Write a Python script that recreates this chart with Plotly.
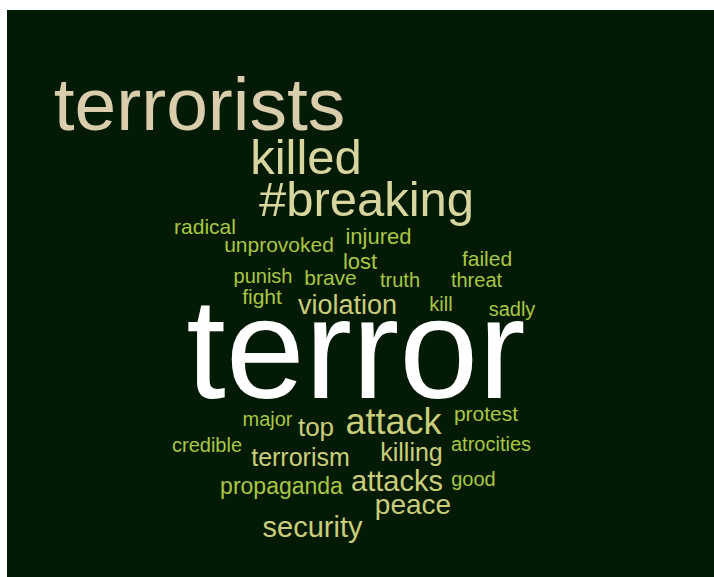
import plotly.graph_objects as go

# Words and their weights (font size in px, proportional to frequency)
words = ["terrorists", "killed", "#breaking", "radical", "unprovoked", "injured",
         "lost", "failed", "punish", "brave", "truth", "threat", "fight",
         "violation", "kill", "sadly", "terror", "major", "top", "attack",
         "protest", "credible", "terrorism", "killing", "atrocities",
         "propaganda", "attacks", "good", "peace", "security"]
weights = [75, 49, 49, 21, 21, 22,
           22, 21, 20, 21, 20, 20, 21,
           27, 20, 20, 142, 20, 26, 36,
           21, 20, 25, 25, 20,
           23, 29, 20, 28, 29]

# Layout of the cloud (centre x, baseline y, in pixel space of the panel)
pos_x = [199.5, 306, 366.5, 205, 279, 378.5,
         360, 487, 263, 330.5, 400, 476.5, 262,
         347.5, 441, 512, 356, 267.5, 316, 393.5,
         486, 207, 300.5, 411.5, 491,
         281.5, 397, 473.5, 413, 312.5]
pos_base = [132, 175, 217, 235, 253, 245,
            270, 267, 284, 286, 288, 288, 305,
            315, 312, 317, 402, 427, 437, 435,
            422, 453, 467, 462, 452,
            495, 492, 487, 515, 538]


def colour_for(w, word):
    if word == "terror":
        return "#ffffff"
    if w >= 70:
        return "#d9cdab"
    if w >= 40:
        return "#d8d69e"
    if w >= 24:
        return "#cbcd7a"
    return "#a9c743"


colors = [colour_for(w, t) for w, t in zip(weights, words)]
ys = [b - 0.28 * w for b, w in zip(pos_base, weights)]

fig = go.Figure()
fig.add_trace(go.Scatter(
    x=pos_x, y=ys, text=words, mode="text",
    textposition="middle center",
    textfont=dict(family="Liberation Sans, Arial, sans-serif",
                  size=weights, color=colors),
    hoverinfo="text", showlegend=False,
))

fig.add_shape(type="rect", x0=7, x1=714, y0=10, y1=577,
              xref="x", yref="y", fillcolor="#031a05",
              line=dict(width=0), layer="below")

fig.update_layout(
    width=714, height=577,
    margin=dict(l=0, r=0, t=0, b=0),
    paper_bgcolor="#ffffff", plot_bgcolor="#ffffff",
    xaxis=dict(range=[0, 714], visible=False, fixedrange=True),
    yaxis=dict(range=[577, 0], visible=False, fixedrange=True),
)

fig.write_html(
    "out.html",
    config={"displayModeBar": False},
    post_script="document.body.style.margin='0';document.body.style.overflow='hidden';",
)
